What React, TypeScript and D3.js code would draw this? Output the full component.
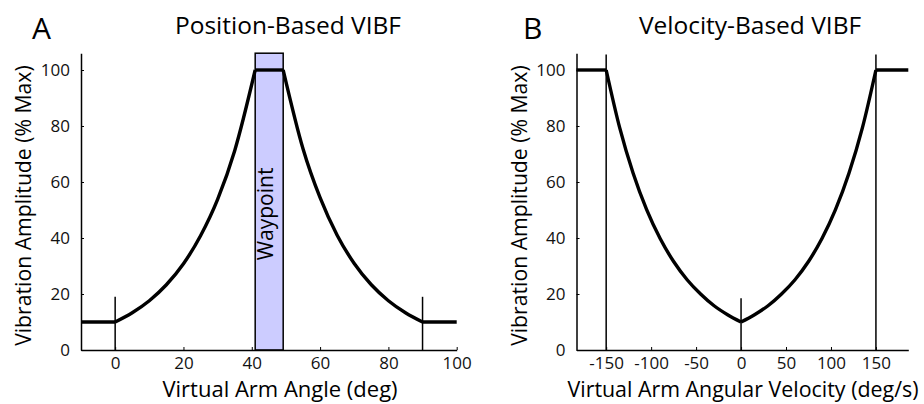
import React, { useEffect, useRef } from 'react';
import * as d3 from 'd3';

// Panel A: position-based VIBF (angle in deg, amplitude in % max)
const posAngle = [-10, 0, 5, 10, 15, 20, 25, 30, 35, 41, 49.2, 55, 60, 65, 70, 75, 80, 85, 90, 100];
const posAmp = [10, 10, 13.3, 17.6, 23.3, 30.8, 40.8, 53.8, 71.2, 100, 100, 71.9, 54.4, 41, 30.9, 23.3, 17.6, 13.3, 10, 10];
const posKnees = [0, 41, 49.2, 90];
const posMarkers = [0, 90];
const posMarkerTop = 19;
const waypoint = [41, 49.2];
const posTicks = [0, 20, 40, 60, 80, 100];

// Panel B: velocity-based VIBF (deg/s)
const velSpeed = [-183, -150, -135, -120, -105, -90, -75, -60, -45, -30, -15, 0, 15, 30, 45, 60, 75, 90, 105, 120, 135, 150, 186];
const velAmp = [100, 100, 79.4, 63.1, 50.1, 39.8, 31.6, 25.1, 20, 15.8, 12.6, 10, 12.6, 15.8, 20, 25.1, 31.6, 39.8, 50.1, 63.1, 79.4, 100, 100];
const velKnees = [-150, 0, 150];
const velMarkers = [-150, 0, 150];
const velMarkerTops = [105.5, 18.5, 105.5];
const velTicks = [-150, -100, -50, 0, 50, 100, 150];

const ampTicks = [0, 20, 40, 60, 80, 100];

const font = '"Open Sans", sans-serif';

function splitAt(xs: number[], ys: number[], knees: number[]) {
    const segs: [number, number][][] = [];
    let cur: [number, number][] = [];
    xs.forEach((x, i) => {
        cur.push([x, ys[i]]);
        if (knees.includes(x) && i > 0 && i < xs.length - 1) {
            segs.push(cur);
            cur = [[x, ys[i]]];
        }
    });
    segs.push(cur);
    return segs;
}

function drawPanel(svg: any, opts: any) {
    const { x, y, xs, ys, knees, xTicks, letter, title, xTitle, left, letterX, yTitleX } = opts;
    const g = svg.append('g');

    if (opts.waypoint) {
        g.append('rect')
            .attr('x', x(opts.waypoint[0]))
            .attr('y', y(106))
            .attr('width', x(opts.waypoint[1]) - x(opts.waypoint[0]))
            .attr('height', y(0) - y(106))
            .attr('fill', '#ccccff')
            .attr('stroke', 'black')
            .attr('stroke-width', 1.5);
        const cx = x(opts.waypoint[0]) + 18;
        g.append('text')
            .attr('transform', `translate(${cx},${(y(45) + y(55)) / 2 + 4}) rotate(-90)`)
            .attr('text-anchor', 'middle')
            .attr('font-family', font)
            .attr('font-size', 21)
            .text('Waypoint');
    }

    // markers
    opts.markers.forEach((m: number, i: number) => {
        g.append('line')
            .attr('x1', x(m)).attr('x2', x(m))
            .attr('y1', y(0)).attr('y2', y(opts.markerTops[i]))
            .attr('stroke', 'black')
            .attr('stroke-width', 1.5);
    });

    const line = d3.line<[number, number]>()
        .x(d => x(d[0]))
        .y(d => y(d[1]))
        .curve(d3.curveMonotoneX);

    splitAt(xs, ys, knees).forEach(seg => {
        g.append('path')
            .attr('d', line(seg))
            .attr('fill', 'none')
            .attr('stroke', 'black')
            .attr('stroke-width', 3.4);
    });

    const xAxis = g.append('g')
        .attr('transform', `translate(0,${y(0)})`)
        .call(d3.axisBottom(x).tickValues(xTicks).tickFormat((d: any) => String(d)).tickSizeInner(-3).tickSizeOuter(0).tickPadding(7));
    const yAxis = g.append('g')
        .attr('transform', `translate(${left},0)`)
        .call(d3.axisLeft(y).tickValues(ampTicks).tickFormat((d: any) => String(d)).tickSizeInner(-3).tickSizeOuter(0).tickPadding(11));

    [xAxis, yAxis].forEach(a => {
        a.select('.domain').attr('stroke-width', 1.5);
        a.selectAll('.tick line').attr('stroke-width', 1);
        a.selectAll('text').attr('font-family', font).attr('font-size', 17).attr('fill', '#111');
    });

    g.append('text')
        .attr('x', letterX).attr('y', 39)
        .attr('font-family', font).attr('font-size', 30)
        .text(letter);
    g.append('text')
        .attr('x', opts.titleX).attr('y', 34)
        .attr('text-anchor', 'middle')
        .attr('font-family', font).attr('font-size', 24.5)
        .text(title);
    g.append('text')
        .attr('x', opts.xTitleX).attr('y', 397)
        .attr('text-anchor', 'middle')
        .attr('font-family', font).attr('font-size', opts.xTitleSize)
        .text(xTitle);
    g.append('text')
        .attr('transform', `translate(${yTitleX},${(y(0) + y(106)) / 2 + 4}) rotate(-90)`)
        .attr('text-anchor', 'middle')
        .attr('font-family', font).attr('font-size', 21.2)
        .text('Vibration Amplitude (% Max)');
}

export default function App() {
    const ref = useRef<HTMLDivElement>(null);

    useEffect(() => {
        const w = 924;
        const h = 404;
        const root = d3.select(ref.current);
        root.selectAll('*').remove();
        const svg = root.append('svg')
            .attr('width', w)
            .attr('height', h)
            .style('display', 'block')
            .style('background', 'white');

        const y = d3.scaleLinear().domain([0, 106]).range([350, 53.2]);

        const xA = d3.scaleLinear().domain([-10, 100]).range([81, 456.7]);
        drawPanel(svg, {
            x: xA, y, xs: posAngle, ys: posAmp, knees: posKnees, xTicks: posTicks,
            markers: posMarkers, markerTops: posMarkers.map(() => posMarkerTop),
            waypoint, left: 81, letter: 'A', letterX: 32, titleX: 288,
            title: 'Position-Based VIBF', xTitle: 'Virtual Arm Angle (deg)', xTitleX: 280, xTitleSize: 22,
            yTitleX: 31,
        });

        const xB = d3.scaleLinear().domain([-183, 186]).range([576.5, 908.3]);
        drawPanel(svg, {
            x: xB, y, xs: velSpeed, ys: velAmp, knees: velKnees, xTicks: velTicks,
            markers: velMarkers, markerTops: velMarkerTops,
            left: 576.5, letter: 'B', letterX: 523, titleX: 750,
            title: 'Velocity-Based VIBF', xTitle: 'Virtual Arm Angular Velocity (deg/s)', xTitleX: 743, xTitleSize: 21.4,
            yTitleX: 527,
        });
    }, []);

    return <div ref={ref} style={{ position: 'absolute', left: 0, top: 0 }}></div>;
}
